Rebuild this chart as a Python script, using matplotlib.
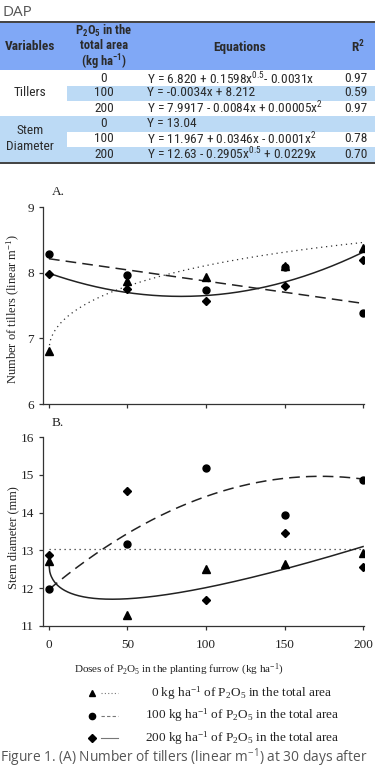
import matplotlib
matplotlib.use('Agg')
import matplotlib.pyplot as plt
import numpy as np
from matplotlib.patches import Rectangle
from matplotlib import font_manager

plt.rcParams['font.family'] = ['Liberation Serif', 'DejaVu Serif']
plt.rcParams['mathtext.default'] = 'regular'

W, H = 375, 774

# ---------------- data ----------------
doses = [0, 50, 100, 150, 200]
tillers_0 = [6.80, 7.88, 7.93, 8.10, 8.38]
tillers_100 = [8.28, 7.97, 7.73, 8.08, 7.38]
tillers_200 = [7.98, 7.75, 7.57, 7.80, 8.20]
stem_0 = [12.72, 11.28, 12.52, 12.64, 12.92]
stem_100 = [11.99, 13.17, 15.18, 13.93, 14.87]
stem_200 = [12.89, 14.58, 11.70, 13.45, 12.57]

# regression coefficients (from table): Y = a + b*x^0.5 + c*x + d*x^2
coef_till_0 = [6.820, 0.1598, -0.0031, 0.0]
coef_till_100 = [8.212, 0.0, -0.0034, 0.0]
coef_till_200 = [7.9917, 0.0, -0.0084, 0.00005]
coef_stem_0 = [13.04, 0.0, 0.0, 0.0]
coef_stem_100 = [11.967, 0.0, 0.0346, -0.0001]
coef_stem_200 = [12.63, -0.2905, 0.0229, 0.0]

x_ticks = [0, 50, 100, 150, 200]
yticks_A = [6, 7, 8, 9]
yticks_B = [11, 12, 13, 14, 15, 16]

table_header = ['Variables', 'Equations', 'R$^{2}$']
table_header_dose = ['P$_{2}$O$_{5}$ in the', 'total area', '(kg ha$^{-1}$)']
table_vars = ['Tillers', 'Stem', 'Diameter']
table_doses = ['0', '100', '200', '0', '100', '200']
table_eqs = ['Y = 6.820 + 0.1598x$^{0.5}$- 0.0031x',
             'Y = -0.0034x + 8.212',
             'Y = 7.9917 - 0.0084x + 0.00005x$^{2}$',
             'Y = 13.04',
             'Y = 11.967 + 0.0346x - 0.0001x$^{2}$',
             'Y = 12.63 - 0.2905x$^{0.5}$ + 0.0229x']
table_r2 = ['0.97', '0.59', '0.97', '', '0.78', '0.70']

legend_labels = ['0 kg ha$^{-1}$ of P$_{2}$O$_{5}$ in the total area',
                 '100 kg ha$^{-1}$ of P$_{2}$O$_{5}$ in the total area',
                 '200 kg ha$^{-1}$ of P$_{2}$O$_{5}$ in the total area']


def curve(coef, x):
    a, b, c, d = coef
    return a + b * np.sqrt(x) + c * x + d * x ** 2


def find_family(cands):
    for c in cands:
        try:
            font_manager.findfont(font_manager.FontProperties(family=c), fallback_to_default=False)
            return c
        except Exception:
            pass
    return None


narrow = find_family(['Liberation Sans Narrow', 'Arial Narrow', 'Roboto Condensed', 'Open Sans Condensed'])
if narrow:
    tfont = [narrow, 'DejaVu Sans']
    fs_t = 9.6
else:
    tfont = ['Liberation Sans', 'DejaVu Sans']
    fs_t = 8.4

fig = plt.figure(figsize=(W / 100, H / 100), dpi=100)

# overlay axes in pixel coordinates
ov = fig.add_axes([0, 0, 1, 1])
ov.set_xlim(0, W)
ov.set_ylim(H, 0)
ov.axis('off')

tcol = '#2b2b2b'
hdr_blue = '#80a8f6'
light_blue = '#bcdaf5'

ov.text(2, 12, 'DAP', family=['Open Sans', 'DejaVu Sans'], fontsize=11, color='#555555', va='center', ha='left')

# table frame
ov.plot([0, W], [22, 22], color='#333333', lw=1.3)
ov.add_patch(Rectangle((0, 23), W, 47, color=hdr_blue, lw=0))
bounds = [70, 85.5, 100.5, 116, 131.5, 146.5, 161.5]
ov.add_patch(Rectangle((67, bounds[1]), W - 67, bounds[2] - bounds[1], color=light_blue, lw=0))
ov.add_patch(Rectangle((0, bounds[3]), W, bounds[4] - bounds[3], color=light_blue, lw=0))
ov.add_patch(Rectangle((0, bounds[4]), 67, bounds[5] - bounds[4], color=light_blue, lw=0))
ov.add_patch(Rectangle((0, bounds[5]), W, bounds[6] - bounds[5], color=light_blue, lw=0))
ov.plot([0, W], [162.5, 162.5], color='#333333', lw=1.3)

ov.text(30, 47, table_header[0], family=tfont, weight='bold', fontsize=fs_t, color=tcol, ha='center', va='center')
hdr_fs = fs_t - 0.6
for j, yy in enumerate([30.5, 45.5, 62]):
    ov.text(104, yy, table_header_dose[j], family=tfont, weight='bold', fontsize=hdr_fs, color=tcol,
            ha='center', va='center')
ov.text(240, 47, table_header[1], family=tfont, weight='bold', fontsize=fs_t, color=tcol, ha='center', va='center')
ov.text(358, 47, table_header[2], family=tfont, weight='bold', fontsize=fs_t, color=tcol, ha='center', va='center')

centers = [(bounds[i] + bounds[i + 1]) / 2 for i in range(6)]
centers[0] += 0.8
ov.text(30, centers[1], table_vars[0], family=tfont, fontsize=fs_t, color=tcol, ha='center', va='center')
ov.text(30, 131, table_vars[1], family=tfont, fontsize=fs_t, color=tcol, ha='center', va='center')
ov.text(30, 146, table_vars[2], family=tfont, fontsize=fs_t, color=tcol, ha='center', va='center')
for i in range(6):
    ov.text(104, centers[i], table_doses[i], family=tfont, fontsize=fs_t, color=tcol, ha='center', va='center')
    ov.text(147, centers[i], table_eqs[i], family=tfont, fontsize=fs_t, color=tcol, ha='left', va='center')
    ov.text(356, centers[i], table_r2[i], family=tfont, fontsize=fs_t, color=tcol, ha='center', va='center')

# ---------------- plots ----------------
axcol = '#333333'
xs = np.linspace(0, 200, 400)
dot_ls = (0, (1, 3))
dash_ls = (0, (7, 4))


def style(ax):
    for s in ['top', 'right']:
        ax.spines[s].set_visible(False)
    for s in ['left', 'bottom']:
        ax.spines[s].set_color(axcol)
        ax.spines[s].set_linewidth(0.9)
    ax.tick_params(direction='out', length=3, width=0.9, color=axcol, labelsize=9.5, labelcolor='#222222')
    ax.set_facecolor('none')
    ax.set_xlim(-3.8, 200.6)
    ax.set_xticks(x_ticks)


axA = fig.add_axes([43 / W, 1 - 404 / H, 321 / W, 197 / H])
style(axA)
axA.set_ylim(6, 9)
axA.set_yticks(yticks_A)
axA.tick_params(axis='x', labelbottom=False)
axA.plot(xs, curve(coef_till_0, xs), ls=dot_ls, color='#333333', lw=0.9)
axA.plot(xs, curve(coef_till_100, xs), ls=dash_ls, color='#222222', lw=1.1)
axA.plot(xs, curve(coef_till_200, xs), ls='-', color='#222222', lw=1.1)
axA.plot(doses, tillers_100, 'o', color='k', ms=5, zorder=3)
axA.plot(doses, tillers_200, 'D', color='k', ms=4.5, zorder=3)
axA.plot(doses, tillers_0, '^', color='k', ms=5.5, zorder=3)
ov.text(13, 309, 'Number of tillers (linear m$^{-1}$)', fontsize=9, color='#222222',
        rotation=90, ha='center', va='center')
ov.text(52, 192, 'A.', fontsize=9.5, color='#222222', ha='left', va='center')

axB = fig.add_axes([43 / W, 1 - 626 / H, 321 / W, 189 / H])
style(axB)
axB.set_ylim(11, 16)
axB.set_yticks(yticks_B)
axB.tick_params(axis='x', pad=6)
axB.plot(xs, curve(coef_stem_0, xs), ls=dot_ls, color='#333333', lw=0.9)
axB.plot(xs, curve(coef_stem_100, xs), ls=dash_ls, color='#222222', lw=1.1)
axB.plot(xs, curve(coef_stem_200, xs), ls='-', color='#222222', lw=1.1)
axB.plot(doses, stem_100, 'o', color='k', ms=5, zorder=3)
axB.plot(doses, stem_200, 'D', color='k', ms=4.5, zorder=3)
axB.plot(doses, stem_0, '^', color='k', ms=5.5, zorder=3)
ov.text(13, 538, 'Stem diameter (mm)', fontsize=9, color='#222222',
        rotation=90, ha='center', va='center')
ov.text(52, 423, 'B.', fontsize=9.5, color='#222222', ha='left', va='center')

ov.text(179, 670, 'Doses of P$_{2}$O$_{5}$ in the planting furrow (kg ha$^{-1}$)', fontsize=8,
        color='#222222', ha='center', va='center')

# legend
leg_y = [693, 715.5, 738]
leg_markers = ['^', 'o', 'D']
leg_ms = [5, 4.5, 4]
leg_ls = [(0, (1, 2)), (0, (3, 2)), '-']
for i in range(3):
    ov.plot([92], [leg_y[i]], leg_markers[i], color='k', ms=leg_ms[i])
    ov.plot([101, 118], [leg_y[i], leg_y[i]], ls=leg_ls[i], color='#777777', lw=0.8)
    ov.text(242, leg_y[i], legend_labels[i], fontsize=9.5, color='#222222', ha='center', va='center')

ov.text(0, 758, 'Figure 1. (A) Number of tillers (linear m$^{-1}$) at 30 days after',
        family=['Open Sans', 'DejaVu Sans'], fontsize=9.9, color='#555555', ha='left', va='center')

fig.savefig('out.png', dpi=100)
